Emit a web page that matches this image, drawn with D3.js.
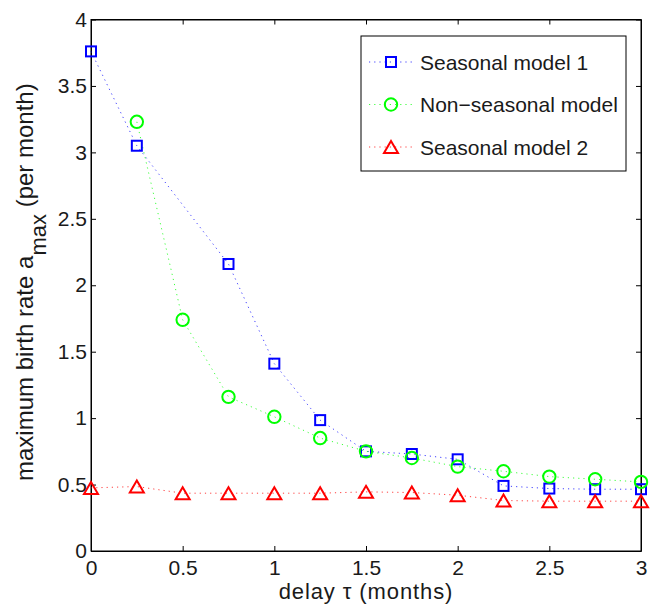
<!DOCTYPE html>
<html><head><meta charset="utf-8">
<script src="https://cdn.jsdelivr.net/npm/d3@7"></script>
<style>body{margin:0;background:#fff}svg{display:block}</style>
</head><body>
<svg id="c" width="652" height="604"></svg>
<script>
const seasonal1X = [0, 0.25, 0.75, 1, 1.25, 1.5, 1.75, 2, 2.25, 2.5, 2.75, 3];
const seasonal1Y = [3.76, 3.05, 2.16, 1.41, 0.985, 0.75, 0.73, 0.69, 0.49, 0.47, 0.465, 0.465];
const nonSeasonalX = [0.25, 0.5, 0.75, 1, 1.25, 1.5, 1.75, 2, 2.25, 2.5, 2.75, 3];
const nonSeasonalY = [3.23, 1.74, 1.16, 1.01, 0.85, 0.75, 0.70, 0.635, 0.60, 0.56, 0.54, 0.52];
const seasonal2X = [0, 0.25, 0.5, 0.75, 1, 1.25, 1.5, 1.75, 2, 2.25, 2.5, 2.75, 3];
const seasonal2Y = [0.475, 0.485, 0.435, 0.435, 0.435, 0.435, 0.445, 0.44, 0.42, 0.38, 0.375, 0.375, 0.375];
const xTicks = [0, 0.5, 1, 1.5, 2, 2.5, 3];
const yTicks = [0, 0.5, 1, 1.5, 2, 2.5, 3, 3.5, 4];
const seriesNames = ["Seasonal model 1", "Non\u2212seasonal model", "Seasonal model 2"];
const seriesColors = ["#0000ff", "#00ff00", "#ff0000"];
const xLabel = "delay \u03c4 (months)";

const svg = d3.select("#c");
const L = 91, R = 641, T = 19.5, B = 551;
const x = d3.scaleLinear().domain([0, 3]).range([L, R]);
const y = d3.scaleLinear().domain([0, 4]).range([B, T]);
const font = "'Liberation Sans', Arial, Helvetica, sans-serif";

// frame
svg.append("rect").attr("x", L).attr("y", T).attr("width", R - L).attr("height", B - T)
  .attr("fill", "none").attr("stroke", "#000").attr("stroke-width", 1);

const fmt = d => String(d);
const gx = svg.append("g").attr("transform", `translate(0,${B})`)
  .call(d3.axisBottom(x).tickValues(xTicks).tickFormat(fmt).tickSize(-5).tickSizeOuter(0).tickPadding(9));
const gxt = svg.append("g").attr("transform", `translate(0,${T})`)
  .call(d3.axisTop(x).tickValues(xTicks).tickFormat("").tickSize(-5).tickSizeOuter(0));
const gy = svg.append("g").attr("transform", `translate(${L},0)`)
  .call(d3.axisLeft(y).tickValues(yTicks).tickFormat(fmt).tickSize(-5).tickSizeOuter(0).tickPadding(4));
const gyr = svg.append("g").attr("transform", `translate(${R},0)`)
  .call(d3.axisRight(y).tickValues(yTicks).tickFormat("").tickSize(-5).tickSizeOuter(0));
[gx, gxt, gy, gyr].forEach(g => {
  g.selectAll(".domain").attr("stroke", "#000");
  g.selectAll(".tick line").attr("stroke", "#000");
  g.selectAll("text").attr("font-family", font).attr("font-size", 21).attr("fill", "#1a1a1a");
});

const lineGen = d3.line().x(d => x(d[0])).y(d => y(d[1]));
const series = [
  {xs: seasonal1X, ys: seasonal1Y, shape: "square"},
  {xs: nonSeasonalX, ys: nonSeasonalY, shape: "circle"},
  {xs: seasonal2X, ys: seasonal2Y, shape: "triangle"}
];

function drawMarker(g, cx, cy, shape, color) {
  if (shape === "square") {
    g.append("rect").attr("x", cx - 5).attr("y", cy - 5).attr("width", 10).attr("height", 10)
      .attr("fill", "none").attr("stroke", color).attr("stroke-width", 2);
  } else if (shape === "circle") {
    g.append("circle").attr("cx", cx).attr("cy", cy).attr("r", 6.2)
      .attr("fill", "none").attr("stroke", color).attr("stroke-width", 2);
  } else {
    g.append("path").attr("d", `M${cx},${cy - 6} L${cx + 7},${cy + 6} L${cx - 7},${cy + 6} Z`)
      .attr("fill", "none").attr("stroke", color).attr("stroke-width", 2).attr("stroke-linejoin", "miter");
  }
}

const plotG = svg.append("g");
series.forEach((s, i) => {
  const pts = s.xs.map((v, j) => [v, s.ys[j]]);
  plotG.append("path").attr("d", lineGen(pts)).attr("fill", "none")
    .attr("stroke", seriesColors[i]).attr("stroke-width", 1).attr("stroke-dasharray", "1.2,4").attr("opacity", 0.75);
});
series.forEach((s, i) => {
  s.xs.forEach((v, j) => drawMarker(plotG, x(v), y(s.ys[j]), s.shape, seriesColors[i]));
});

// legend
const lg = svg.append("g");
lg.append("rect").attr("x", 361).attr("y", 36).attr("width", 265).attr("height", 135)
  .attr("fill", "#fff").attr("stroke", "#000").attr("stroke-width", 1);
const legY = [62, 104.5, 147];
series.forEach((s, i) => {
  lg.append("line").attr("x1", 369).attr("x2", 413).attr("y1", legY[i]).attr("y2", legY[i])
    .attr("stroke", seriesColors[i]).attr("stroke-width", 1).attr("stroke-dasharray", "1.2,4").attr("opacity", 0.75);
  drawMarker(lg, 391, legY[i], s.shape, seriesColors[i]);
  lg.append("text").attr("x", 420).attr("y", legY[i] + 7.5).text(seriesNames[i])
    .attr("font-family", font).attr("font-size", 21).attr("fill", "#1a1a1a");
});

// axis labels
svg.append("text").attr("x", (L + R) / 2).attr("y", 599).attr("text-anchor", "middle")
  .attr("font-family", font).attr("font-size", 22).attr("letter-spacing", 0.9)
  .attr("fill", "#1a1a1a").text(xLabel);

const yl = svg.append("text").attr("transform", "translate(33,481) rotate(-90)")
  .attr("font-family", font).attr("font-size", 24).attr("fill", "#1a1a1a");
yl.append("tspan").text("maximum birth rate a");
yl.append("tspan").attr("dy", 13).attr("font-size", 22).text("max");
yl.append("tspan").attr("dy", -13).text(" (per month)");
</script>
</body></html>
